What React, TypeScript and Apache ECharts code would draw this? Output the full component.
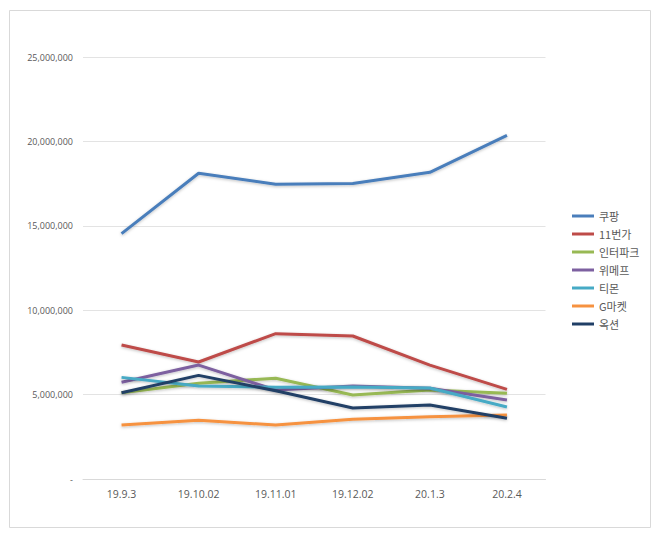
import React, { useEffect, useRef } from "react";
import * as echarts from "echarts";

const categories = ["19.9.3", "19.10.02", "19.11.01", "19.12.02", "20.1.3", "20.2.4"];
const seriesNames = ["쿠팡", "11번가", "인터파크", "위메프", "티몬", "G마켓", "옥션"];
const coupang = [14540000, 18110000, 17460000, 17500000, 18170000, 20360000];
const st11 = [7940000, 6930000, 8610000, 8470000, 6750000, 5310000];
const interpark = [5110000, 5670000, 5970000, 4980000, 5270000, 5080000];
const wemakeprice = [5730000, 6750000, 5270000, 5510000, 5370000, 4680000];
const tmon = [6020000, 5510000, 5430000, 5450000, 5390000, 4270000];
const gmarket = [3200000, 3480000, 3200000, 3540000, 3690000, 3790000];
const auction = [5110000, 6140000, 5230000, 4210000, 4380000, 3600000];
const colors = ["#4a7ebb", "#be4b48", "#98b954", "#7d60a0", "#46aac5", "#f69240", "#203f66"];

export default function App() {
  const ref = useRef<HTMLDivElement>(null);
  useEffect(() => {
    if (!ref.current) return;
    const chart = echarts.init(ref.current, null, { renderer: "svg" });
    const data = [coupang, st11, interpark, wemakeprice, tmon, gmarket, auction];
    chart.setOption({
      animation: false,
      backgroundColor: "#ffffff",
      graphic: [
        {
          type: "rect",
          shape: { x: 9.5, y: 10.5, width: 641, height: 517 },
          style: { fill: "none", stroke: "#d9d9d9", lineWidth: 1 },
          silent: true,
        },
      ],
      grid: { left: 83, right: 114.5, top: 57, bottom: 59 },
      legend: {
        orient: "vertical",
        left: 567,
        top: 205,
        icon: "rect",
        itemWidth: 22,
        itemHeight: 3,
        itemGap: 6,
        data: seriesNames,
        textStyle: {
          fontFamily: "'Noto Sans CJK KR', 'Noto Sans', sans-serif",
          fontSize: 11,
          lineHeight: 12,
          color: "#595959",
        },
      },
      xAxis: {
        type: "category",
        data: categories,
        boundaryGap: true,
        axisLine: { lineStyle: { color: "#d9d9d9" } },
        axisTick: { show: false },
        axisLabel: {
          margin: 9,
          fontSize: 10.5,
          color: "#595959",
          fontFamily: "'Open Sans', 'Noto Sans', sans-serif",
        },
      },
      yAxis: {
        type: "value",
        min: 0,
        max: 25000000,
        interval: 5000000,
        axisLine: { show: false },
        axisTick: { show: false },
        splitLine: { lineStyle: { color: "#e3e3e3" } },
        axisLabel: {
          margin: 10,
          fontSize: 9,
          color: "#595959",
          fontFamily: "'Open Sans', 'Noto Sans', sans-serif",
          formatter: (v: number) => (v === 0 ? "-" : v.toLocaleString("en-US")),
        },
      },
      series: seriesNames.map((name, i) => ({
        name,
        type: "line",
        data: data[i],
        symbol: "none",
        color: colors[i],
        lineStyle: {
          width: 3,
          color: colors[i],
          shadowColor: "rgba(0,0,0,0.25)",
          shadowBlur: 3,
          shadowOffsetY: 1,
        },
      })),
    });
    return () => chart.dispose();
  }, []);
  return (
    <div style={{ position: "absolute", left: 0, top: 0, width: 660, height: 538 }}>
      <div ref={ref} style={{ width: 660, height: 538 }} />
    </div>
  );
}
